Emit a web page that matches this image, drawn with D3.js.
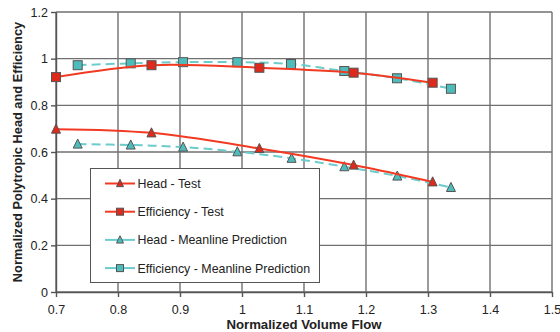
<!DOCTYPE html>
<html>
<head>
<meta charset="utf-8">
<script src="https://cdn.jsdelivr.net/npm/d3@7"></script>
<style>
body{margin:0;background:#fff;}
svg{display:block;font-family:"Liberation Sans",Arial,sans-serif;}
</style>
</head>
<body>
<svg id="chart"></svg>
<script>
let width=560, height=332
let margin={left:56,right:8,top:12,bottom:40}

// data
let headTestX=[0.70,0.854,1.028,1.180,1.3075]
let headTestY=[0.698,0.682,0.615,0.544,0.472]
let effTestX=[0.70,0.854,1.028,1.180,1.3075]
let effTestY=[0.921,0.972,0.961,0.940,0.897]
let headPredX=[0.735,0.8205,0.905,0.9925,1.080,1.165,1.2505,1.337]
let headPredY=[0.634,0.630,0.621,0.601,0.573,0.537,0.497,0.448]
let effPredX=[0.735,0.8205,0.905,0.9925,1.079,1.165,1.250,1.337]
let effPredY=[0.972,0.980,0.985,0.985,0.977,0.947,0.916,0.871]
let xTicks=[0.7,0.8,0.9,1.0,1.1,1.2,1.3,1.4,1.5]
let yTicks=[0,0.2,0.4,0.6,0.8,1.0,1.2]
let seriesNames=['Head - Test','Efficiency - Test','Head - Meanline Prediction','Efficiency - Meanline Prediction']

let red='#f23a22', redFill='#dd2a1a'
let cyan='#6ccccc', cyanFill='#4fbcbc'

let series=[
  {name:seriesNames[0],xs:headTestX,ys:headTestY,color:red,fill:redFill,shape:'tri',dash:null},
  {name:seriesNames[1],xs:effTestX,ys:effTestY,color:red,fill:redFill,shape:'sq',dash:null},
  {name:seriesNames[2],xs:headPredX,ys:headPredY,color:cyan,fill:cyanFill,shape:'tri',dash:'9,5'},
  {name:seriesNames[3],xs:effPredX,ys:effPredY,color:cyan,fill:cyanFill,shape:'sq',dash:'9,5'}
]

let svg=d3.select('#chart').attr('width',width).attr('height',height)

let xScale=d3.scaleLinear().domain([0.7,1.5]).range([margin.left,width-margin.right])
let yScale=d3.scaleLinear().domain([0,1.2]).range([height-margin.bottom,margin.top])

// grid
svg.append('g').selectAll('line.v')
  .data(xTicks).enter().append('line')
  .attr('x1',d=>xScale(d)).attr('x2',d=>xScale(d))
  .attr('y1',yScale(0)).attr('y2',yScale(1.2))
  .attr('stroke','#707070').attr('stroke-width',1.4)
svg.append('g').selectAll('line.h')
  .data(yTicks).enter().append('line')
  .attr('x1',xScale(0.7)).attr('x2',xScale(1.5))
  .attr('y1',d=>yScale(d)).attr('y2',d=>yScale(d))
  .attr('stroke','#707070').attr('stroke-width',1.4)

// axes
let xAxis=d3.axisBottom(xScale).tickValues(xTicks).tickSize(5).tickSizeOuter(0)
  .tickFormat(d=>d===1?'1':d3.format('.1f')(d))
let yAxis=d3.axisLeft(yScale).tickValues(yTicks).tickSize(5).tickSizeOuter(0)
  .tickFormat(d=>d===0?'0':d===1?'1':d3.format('.1f')(d))

let gx=svg.append('g').attr('transform','translate(0,'+yScale(0)+')').call(xAxis)
let gy=svg.append('g').attr('transform','translate('+xScale(0.7)+',0)').call(yAxis)
;[gx,gy].forEach(g=>{
  g.select('.domain').attr('stroke','#555').attr('stroke-width',1.4)
  g.selectAll('.tick line').attr('stroke','#555').attr('stroke-width',1.4)
  g.selectAll('.tick text').attr('fill','#222').style('font-size','12.5px')
    .style('font-family','"Liberation Sans",Arial,sans-serif')
})
gx.selectAll('.tick text').attr('dy','1.15em')
gy.selectAll('.tick text').attr('x',-8)

// lines
let line=d3.line().x(d=>xScale(d[0])).y(d=>yScale(d[1])).curve(d3.curveCatmullRom.alpha(0.5))

let marker=(g,shape,x,y,fill,size)=>{
  if(shape==='sq'){
    g.append('rect').attr('x',x-size/2).attr('y',y-size/2).attr('width',size).attr('height',size)
      .attr('fill',fill).attr('stroke','#555').attr('stroke-width',1)
  }else{
    let h=size*0.9
    g.append('path').attr('d','M'+x+','+(y-h/2-1)+'L'+(x+size/2)+','+(y+h/2)+'L'+(x-size/2)+','+(y+h/2)+'Z')
      .attr('fill',fill).attr('stroke','#555').attr('stroke-width',1)
  }
}

// draw predictions first, tests on top
;[2,3,0,1].forEach(i=>{
  let s=series[i]
  let pts=s.xs.map((x,j)=>[x,s.ys[j]])
  svg.append('path').datum(pts).attr('d',line)
    .attr('fill','none').attr('stroke',s.color).attr('stroke-width',2)
    .attr('stroke-dasharray',s.dash)
  let g=svg.append('g')
  pts.forEach(p=>marker(g,s.shape,xScale(p[0]),yScale(p[1]),s.fill,9))
})

// legend
let lg=svg.append('g')
lg.append('rect').attr('x',90.5).attr('y',168.5).attr('width',229).attr('height',114)
  .attr('fill','#fff').attr('stroke','#555').attr('stroke-width',1)
series.forEach((s,i)=>{
  let y=183.5+i*28.2
  lg.append('line').attr('x1',105).attr('x2',135).attr('y1',y).attr('y2',y)
    .attr('stroke',s.color).attr('stroke-width',2)
  marker(lg,s.shape,120,y,s.fill,7)
  lg.append('text').attr('x',137.5).attr('y',y+4.5).text(s.name)
    .style('font-size','12.4px').attr('fill','#222')
})

// titles
svg.append('text').attr('x',304).attr('y',329).attr('text-anchor','middle')
  .style('font-size','13.2px').style('font-weight','bold').attr('fill','#222')
  .text('Normalized Volume Flow')
svg.append('text').attr('transform','translate(22,152) rotate(-90)').attr('text-anchor','middle')
  .style('font-size','12.8px').style('font-weight','bold').attr('fill','#222')
  .text('Normalized Polytropic Head and Efficiency')
</script>
</body>
</html>
